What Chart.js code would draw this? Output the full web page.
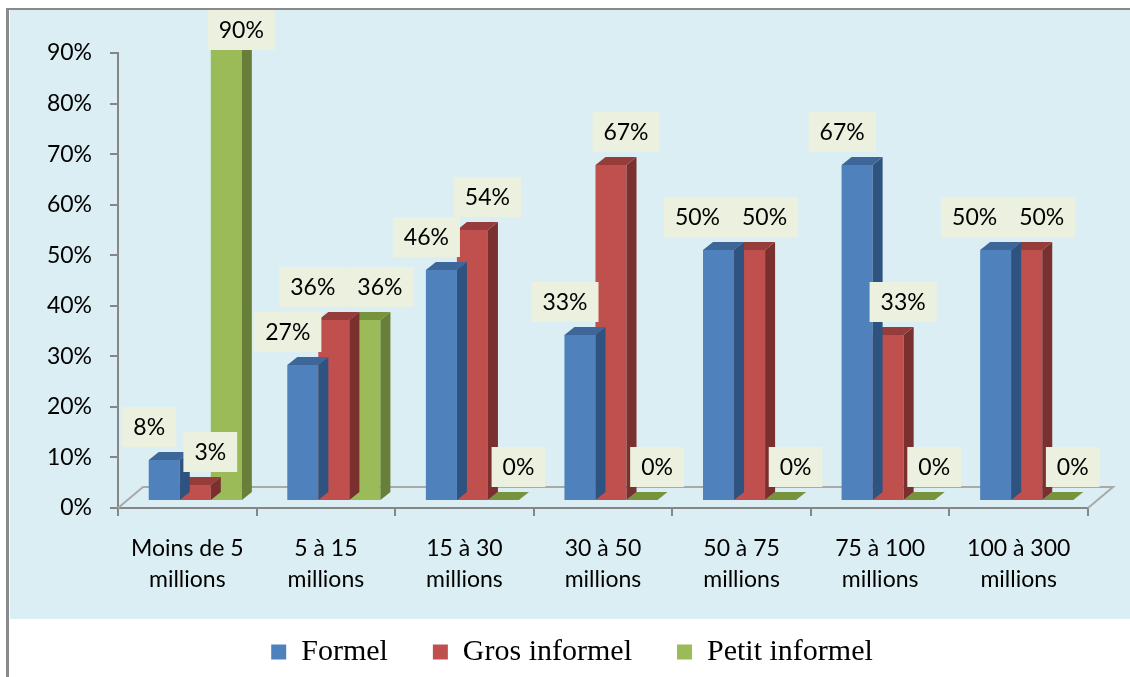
<!DOCTYPE html>
<html>
<head>
<meta charset="utf-8">
<script src="https://cdn.jsdelivr.net/npm/chart.js@4.4.1/dist/chart.umd.min.js"></script>
<style>
  html, body { margin: 0; padding: 0; background: #fff; }
  #wrap { width: 1130px; height: 677px; position: relative; }
</style>
</head>
<body>
<div id="wrap"><canvas id="chart"></canvas></div>
<script>
// Répartition par tranche de chiffre d'affaires
const categories = [
  ["Moins de 5", "millions"],
  ["5 à 15", "millions"],
  ["15 à 30", "millions"],
  ["30 à 50", "millions"],
  ["50 à 75", "millions"],
  ["75 à 100", "millions"],
  ["100 à 300", "millions"],
];
const seriesNames = ["Formel", "Gros informel", "Petit informel"];
const formel = [8, 27, 46, 33, 50, 67, 50];
const grosInformel = [3, 36, 54, 67, 50, 33, 50];
const petitInformel = [90, 36, 0, 0, 0, 0, 0];
const yTickValues = [0, 10, 20, 30, 40, 50, 60, 70, 80, 90];

// front / top / side shades for the pseudo-3D columns
const palette = [
  { front: "#4f81bd", top: "#3d6798", side: "#2f5380" },
  { front: "#c0504d", top: "#963d3b", side: "#7a302e" },
  { front: "#9bbb59", top: "#77933c", side: "#677f38" },
];

const AXIS_COLOR = "#868686";
const FLOOR_COLOR = "#a9a9a9";
const LABEL_BG = "#ebf1de";
const TEXT_FONT = "Lato";
const TEXT_SIZE = 23;
const DEPTH = { dx: 10, dy: -8 };      // column depth
const FLOOR = { dx: 25, dy: -21 };     // floor depth
const SHIFT_X = 8;                     // columns sit slightly behind the front edge
const labelNudge = [-15, 15, 15];      // horizontal nudge of value boxes per series
const FRAME_TOP = 10;

function boxesOverlap(a, b) {
  return a.left < b.right && b.left < a.right && a.top < b.bottom && b.top < a.bottom;
}

const frame = {
  id: "frame",
  beforeDraw(chart) {
    const { ctx, width, height } = chart;
    ctx.save();
    ctx.fillStyle = "#daeef3";
    ctx.fillRect(10, 10, width - 10, 609);
    ctx.fillStyle = "#8a8a8a";
    ctx.fillRect(6, 8, width - 6, 2);
    ctx.fillRect(6, 8, 3, height - 8);
    ctx.restore();
  },
  beforeDatasetsDraw(chart) {
    const { ctx, chartArea: a } = chart;
    // floor outline
    ctx.save();
    ctx.strokeStyle = FLOOR_COLOR;
    ctx.lineWidth = 2;
    ctx.beginPath();
    ctx.moveTo(a.left, a.bottom);
    ctx.lineTo(a.left + FLOOR.dx, a.bottom + FLOOR.dy);
    ctx.lineTo(a.right + FLOOR.dx, a.bottom + FLOOR.dy);
    ctx.lineTo(a.right, a.bottom);
    ctx.stroke();
    ctx.restore();
    ctx.save();
    ctx.translate(SHIFT_X, 0);
  },
  afterDatasetDraw(chart, args) {
    const { ctx } = chart;
    const shade = palette[args.index];
    args.meta.data.forEach((bar) => {
      const { x, y, base, width } = bar.getProps(["x", "y", "base", "width"], true);
      const l = x - width / 2;
      const r = x + width / 2;
      ctx.fillStyle = shade.side;
      ctx.beginPath();
      ctx.moveTo(r, y);
      ctx.lineTo(r + DEPTH.dx, y + DEPTH.dy);
      ctx.lineTo(r + DEPTH.dx, base + DEPTH.dy);
      ctx.lineTo(r, base);
      ctx.closePath();
      ctx.fill();
      ctx.fillStyle = shade.top;
      ctx.beginPath();
      ctx.moveTo(l, y);
      ctx.lineTo(l + DEPTH.dx, y + DEPTH.dy);
      ctx.lineTo(r + DEPTH.dx, y + DEPTH.dy);
      ctx.lineTo(r, y);
      ctx.closePath();
      ctx.fill();
    });
  },
  afterDatasetsDraw(chart) {
    const { ctx } = chart;
    ctx.restore();
    ctx.save();
    ctx.font = TEXT_SIZE + "px " + TEXT_FONT;
    ctx.textAlign = "center";
    ctx.textBaseline = "middle";

    // value boxes, grouped per category so neighbours can be pushed apart
    const nCat = chart.data.labels.length;
    for (let i = 0; i < nCat; i++) {
      const boxes = chart.data.datasets.map((ds, di) => {
        const bar = chart.getDatasetMeta(di).data[i];
        const { x, y } = bar.getProps(["x", "y"], true);
        const text = ds.data[i] + "%";
        const w = ctx.measureText(text).width + 22;
        const h = 40;
        const cx = x + SHIFT_X + labelNudge[di];
        let bottom = y + DEPTH.dy - 5;
        if (bottom - h < FRAME_TOP) bottom = FRAME_TOP + h;
        return { text, left: cx - w / 2, right: cx + w / 2, top: bottom - h, bottom, w, h };
      });
      for (let k = boxes.length - 2; k >= 0; k--) {
        const b = boxes[k];
        const next = boxes[k + 1];
        if (boxesOverlap(b, next)) {
          b.right = next.left;
          b.left = b.right - b.w;
        }
      }
      boxes.forEach((b) => {
        ctx.fillStyle = LABEL_BG;
        ctx.fillRect(b.left, b.top, b.w, b.h);
        ctx.fillStyle = "#000";
        ctx.fillText(b.text, b.left + b.w / 2, b.top + b.h / 2 + 1);
      });
    }
    ctx.restore();
  },
};

const seriesData = [formel, grosInformel, petitInformel];

new Chart(document.getElementById("chart"), {
  type: "bar",
  data: {
    labels: categories,
    datasets: seriesData.map((values, i) => ({
      label: seriesNames[i],
      data: values,
      backgroundColor: palette[i].front,
      borderWidth: 0,
      yAxisID: "yBar",
      clip: false,
      categoryPercentage: 0.672,
      barPercentage: 1,
    })),
  },
  plugins: [frame],
  options: {
    responsive: true,
    maintainAspectRatio: false,
    animation: false,
    layout: { padding: { top: 53, left: 14, right: 0, bottom: 0 } },
    plugins: {
      tooltip: { enabled: false },
      legend: {
        position: "bottom",
        labels: {
          boxWidth: 15,
          boxHeight: 15,
          padding: 45,
          color: "#000",
          font: { family: "'Liberation Serif'", size: 30 },
        },
      },
    },
    scales: {
      x: {
        grid: {
          offset: true,
          drawOnChartArea: false,
          tickLength: 8,
          color: AXIS_COLOR,
          lineWidth: 2,
        },
        border: { color: AXIS_COLOR, width: 2 },
        ticks: {
          color: "#000",
          font: { family: TEXT_FONT, size: TEXT_SIZE, lineHeight: 31 / TEXT_SIZE },
          maxRotation: 0,
          autoSkip: false,
          padding: 17,
        },
        afterFit: (scale) => { scale.height = 84; },
      },
      y: {
        min: 0,
        max: 90,
        afterBuildTicks: (scale) => {
          scale.ticks = yTickValues.map((v) => ({ value: v }));
        },
        grid: {
          drawOnChartArea: false,
          tickLength: 8,
          color: AXIS_COLOR,
          lineWidth: 2,
        },
        border: { color: AXIS_COLOR, width: 2 },
        ticks: {
          color: "#000",
          font: { family: TEXT_FONT, size: TEXT_SIZE },
          padding: 18,
          callback: (v) => v + "%",
        },
        afterFit: (scale) => { scale.width = 104; },
      },
      // column plane: sits a little behind the axis front edge; its empty
      // right-hand strip leaves room for the floor's back corner
      yBar: {
        position: "right",
        min: -1.6,
        max: 89.4,
        grid: { display: false },
        border: { display: false },
        ticks: { display: false },
        afterFit: (scale) => { scale.width = 42; },
      },
    },
  },
});
</script>
</body>
</html>
